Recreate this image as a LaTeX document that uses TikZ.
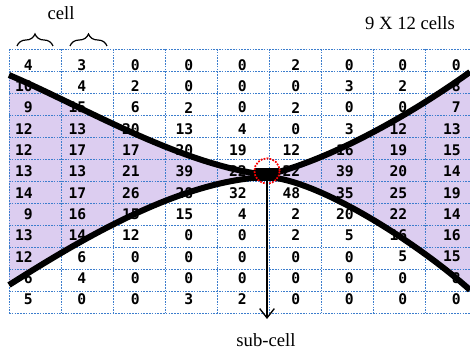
\documentclass[tikz,border=0pt]{standalone}
\usepackage{fontspec}
\setmainfont{Liberation Serif}
\newfontfamily\numfont{DejaVu Sans Mono}
\usetikzlibrary{arrows.meta,decorations.pathreplacing}
\definecolor{lav}{RGB}{220,205,240}
\definecolor{gridblue}{RGB}{60,125,205}
\begin{document}
\begin{tikzpicture}[x=0.75pt,y=-0.75pt,
  gridline/.style={gridblue,line width=0.7pt,dash pattern=on 1.2pt off 0.9pt},
  num/.style={anchor=east,inner sep=0pt,font=\numfont\bfseries\fontsize{11}{12}\selectfont},
  curve/.style={line width=4.5pt,line join=round},
  lbl/.style={inner sep=0pt,font=\fontsize{14}{16}\selectfont},
  bracestyle/.style={line width=0.9pt,decorate,decoration={brace,amplitude=9pt}}]
\useasboundingbox (0,0) rectangle (470,352);
% purple regions
\fill[lav] (9,75) .. controls (80,105) and (180,165) .. (267,175) -- (267,177) .. controls (180,180) and (80,240) .. (9,285) -- cycle;
\fill[lav] (470,72) .. controls (410,115) and (330,160) .. (267,175) -- (267,177) .. controls (320,180) and (420,245) .. (470,290) -- cycle;
% grid
\foreach \k in {0,...,12} \draw[gridline] (9,{49+22*\k}) -- (470,{49+22*\k});
\foreach \k in {0,...,8} \draw[gridline] ({9+52*\k},49) -- ({9+52*\k},313);
% numbers
\foreach \row [count=\r] in {
  {4,3,0,0,0,2,0,0,0},
  {10,4,2,0,0,0,3,2,8},
  {9,15,6,2,0,2,0,0,7},
  {12,13,20,13,4,0,3,12,13},
  {12,17,17,20,19,12,16,19,15},
  {13,13,21,39,22,22,39,20,14},
  {14,17,26,28,32,48,35,25,19},
  {9,16,15,15,4,2,20,22,14},
  {13,14,12,0,0,2,5,16,16},
  {12,6,0,0,0,0,0,5,15},
  {6,4,0,0,0,0,0,0,8},
  {5,0,0,3,2,0,0,0,0}} {
  \foreach \v [count=\c] in \row {
    \node[num] (n-\r-\c) at ({33+53.5*(\c-1)},{65+21.3*(\r-1)}) {\v};
  }
}
% curves
\draw[curve] (9,75) .. controls (80,105) and (180,165) .. (267,175) .. controls (330,160) and (410,115) .. (470,72);
\draw[curve] (9,285) .. controls (80,240) and (180,180) .. (267,177) .. controls (320,180) and (420,245) .. (470,290);
% sub-cell blob and circle
\node[fill=black,inner sep=0pt,minimum width=18pt,minimum height=10pt] (blob) at (267,174.5) {};
\node[circle,draw=red,densely dotted,line width=1.3pt,minimum size=19pt,inner sep=0pt] (ring) at (267,171) {};
% labels
\node[lbl] (cell) at (61,13) {cell};
\node[lbl] (size) at (410,23) {9 X 12 cells};
\node[lbl] (sub) at (266,340) {sub-cell};
\coordinate (tip) at (267,319);
\draw[line width=1pt,-{Straight Barb[length=7pt,width=11pt]}] (blob.center) -- (tip);
% braces
\coordinate (b1a) at (17,46); \coordinate (b1b) at (53,46);
\coordinate (b2a) at (70,46); \coordinate (b2b) at (107,46);
\draw[bracestyle] (b1a) -- (b1b);
\draw[bracestyle] (b2a) -- (b2b);
\end{tikzpicture}
\end{document}
